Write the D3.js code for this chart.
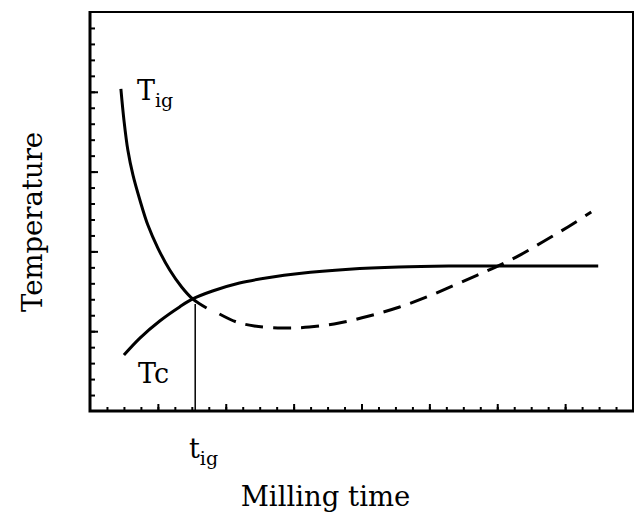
<!DOCTYPE html>
<html>
<head>
<meta charset="utf-8">
<script src="https://cdn.jsdelivr.net/npm/d3@7"></script>
<style>
  body { margin: 0; background: #fff; }
  svg text { font-family: "DejaVu Serif", serif; fill: #000; }
</style>
</head>
<body>
<div id="chart"></div>
<script>
/* Data ************************************************************************/

// ignition temperature curve, solid part (milling time, temperature)
var tig_solid_x = [1.82, 2.00, 2.23, 2.53, 2.94, 3.41, 4.00, 4.70, 5.40, 6.05, 6.87],
    tig_solid_y = [20.18, 18.23, 16.35, 14.79, 13.22, 11.65, 10.21, 8.83, 7.77, 7.02, 6.45];

// ignition temperature curve, dashed part
var tig_dash_x = [7.63, 8.63, 9.69, 11.33, 12.92, 14.68, 16.44, 18.20, 19.85, 21.40, 22.80, 23.90, 25.25, 26.72, 28.19, 29.54],
    tig_dash_y = [6.08, 5.58, 5.33, 5.20, 5.26, 5.51, 5.95, 6.50, 7.15, 7.85, 8.50, 9.02, 9.72, 10.62, 11.55, 12.47];

// combustion temperature curve
var tc_x = [2.0, 2.94, 4.11, 5.28, 6.05, 7.22, 8.81, 10.57, 12.33, 15.27, 18.20, 21.14, 24.08, 27.01, 29.95],
    tc_y = [3.51, 4.57, 5.64, 6.52, 7.02, 7.52, 8.02, 8.37, 8.62, 8.88, 9.02, 9.08, 9.09, 9.09, 9.09];

// ignition time marker
var t_ig = 6.2,
    t_ig_top = 6.7;

// tick positions (no labels on the axes)
var x_minor = d3.range(1, 32),
    x_major = [4, 8, 12, 16, 20, 24, 28],
    y_minor = d3.range(1, 25),
    y_major = [5, 10, 15, 20];

/* Plot ************************************************************************/

function build_plot()
{
    let width = 642,
        height = 513,
        margin = { top: 12, bottom: 102, left: 90, right: 8 };

    let svg = d3.select('#chart').append('svg')
        .attr('width', width)
        .attr('height', height);

    let x = d3.scaleLinear().domain([0, 32]).range([margin.left, width - margin.right - 1]),
        y = d3.scaleLinear().domain([0, 25]).range([height - margin.bottom, margin.top]);

    let line = d3.line()
        .x(d => x(d[0]))
        .y(d => y(d[1]))
        .curve(d3.curveCatmullRom);

    let zip = (a, b) => a.map((v, i) => [v, b[i]]);

    // ticks, pointing inside the frame
    let tick_axis = (axis, vals, len) => axis.tickValues(vals).tickSize(len).tickFormat('');

    [[x_minor, 4], [x_major, 7]].forEach(t => {
        svg.append('g')
            .attr('transform', `translate(0,${y(0)})`)
            .call(tick_axis(d3.axisTop(x), t[0], t[1]))
            .call(g => g.select('.domain').remove())
            .selectAll('line').attr('stroke-width', 2);
    });

    [[y_minor, 5], [y_major, 8]].forEach(t => {
        svg.append('g')
            .attr('transform', `translate(${x(0)},0)`)
            .call(tick_axis(d3.axisRight(y), t[0], t[1]))
            .call(g => g.select('.domain').remove())
            .selectAll('line').attr('stroke-width', 2);
    });

    // frame: left and bottom heavier than top and right
    svg.append('path')
        .attr('fill', 'none')
        .attr('stroke', 'black')
        .attr('stroke-width', 2)
        .attr('d', `M${x(0)},${y(25)}H${x(32)}V${y(0)}`);

    svg.append('path')
        .attr('fill', 'none')
        .attr('stroke', 'black')
        .attr('stroke-width', 3)
        .attr('d', `M${x(0)},${y(25) - 1}V${y(0)}H${x(32) + 1}`);

    // curves
    svg.append('path')
        .attr('fill', 'none').attr('stroke', 'black').attr('stroke-width', 3)
        .attr('d', line(zip(tig_solid_x, tig_solid_y)));

    svg.append('path')
        .attr('fill', 'none').attr('stroke', 'black').attr('stroke-width', 3)
        .attr('stroke-dasharray', '18,10')
        .attr('d', line(zip(tig_dash_x, tig_dash_y)));

    svg.append('path')
        .attr('fill', 'none').attr('stroke', 'black').attr('stroke-width', 3)
        .attr('d', line(zip(tc_x, tc_y)));

    // ignition time marker
    svg.append('line')
        .attr('x1', x(t_ig)).attr('x2', x(t_ig))
        .attr('y1', y(0)).attr('y2', y(t_ig_top))
        .attr('stroke', 'black').attr('stroke-width', 1.5);

    // labels
    let sub_label = (px, py, main, sub) => {
        let t = svg.append('text')
            .attr('x', px).attr('y', py)
            .attr('font-size', 27);
        t.append('tspan').text(main);
        t.append('tspan').attr('dy', 7).attr('font-size', 19).text(sub);
    };

    sub_label(137, 100, 'T', 'ig');
    sub_label(189, 458, 't', 'ig');

    svg.append('text')
        .attr('x', 138).attr('y', 383)
        .attr('font-size', 27)
        .text('Tc');

    svg.append('text')
        .attr('x', (x(0) + x(32)) / 2 - 36).attr('y', 506)
        .attr('text-anchor', 'middle')
        .attr('font-size', 27.5)
        .text('Milling time');

    svg.append('text')
        .attr('transform', 'translate(42,222) rotate(-90)')
        .attr('text-anchor', 'middle')
        .attr('font-size', 27.5)
        .text('Temperature');
}

build_plot();
</script>
</body>
</html>
